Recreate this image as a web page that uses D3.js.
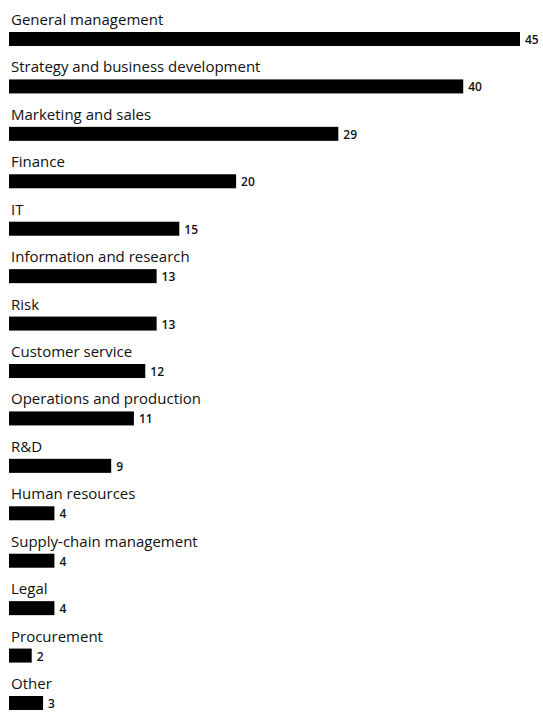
<!DOCTYPE html>
<html>
<head>
<meta charset="utf-8">
<script src="https://cdn.jsdelivr.net/npm/d3@7"></script>
<style>
  html, body { margin: 0; padding: 0; background: #fff; }
  svg { display: block; }
  .cat { font-family: "Open Sans", sans-serif; font-size: 15px; fill: #111; }
  .val { font-family: "Open Sans", sans-serif; font-size: 12px; font-weight: 600; fill: #111; }
</style>
</head>
<body>
<svg id="chart" width="543" height="713"></svg>
<script>
// Functions respondents work in (share, %)
const categories = [
  "General management",
  "Strategy and business development",
  "Marketing and sales",
  "Finance",
  "IT",
  "Information and research",
  "Risk",
  "Customer service",
  "Operations and production",
  "R&D",
  "Human resources",
  "Supply-chain management",
  "Legal",
  "Procurement",
  "Other"
];
const values = [45, 40, 29, 20, 15, 13, 13, 12, 11, 9, 4, 4, 4, 2, 3];

const svg = d3.select("#chart");

const x = d3.scaleLinear().domain([0, 45]).range([9, 520]);
// top edge of each bar
const y = d3.scalePoint().domain(categories).range([32, 696]);
const barH = 14;

const rows = svg.selectAll("g.row")
  .data(categories.map((c, i) => ({ cat: c, v: values[i] })))
  .join("g")
  .attr("class", "row");

rows.append("text")
  .attr("class", "cat")
  .attr("x", 11)
  .attr("y", d => y(d.cat) - 7)
  .text(d => d.cat);

rows.append("rect")
  .attr("x", x(0))
  .attr("y", d => y(d.cat))
  .attr("width", d => x(d.v) - x(0))
  .attr("height", barH)
  .attr("fill", "#000");

rows.append("text")
  .attr("class", "val")
  .attr("x", d => x(d.v) + 5)
  .attr("y", d => y(d.cat) + barH - 2)
  .text(d => d.v);
</script>
</body>
</html>
